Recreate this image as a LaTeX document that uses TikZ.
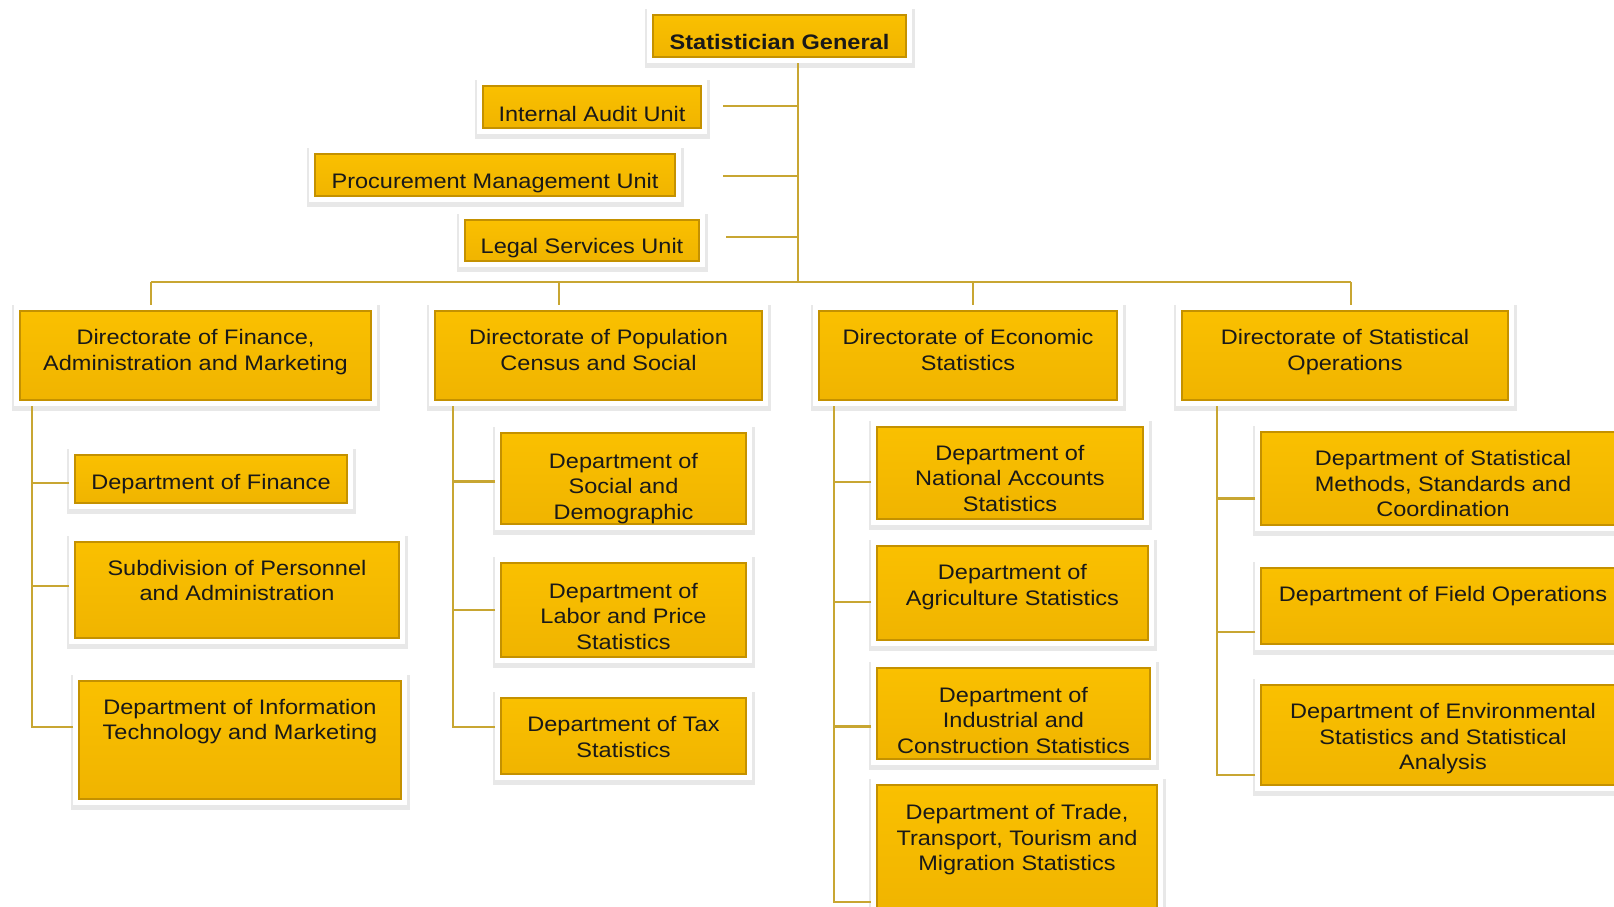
\documentclass[tikz,border=0pt]{standalone}
\usepackage{fontspec}
\setmainfont{Liberation Sans}[FakeStretch=1.12]
\definecolor{gtop}{RGB}{250,192,0}
\definecolor{gbot}{RGB}{240,180,0}
\definecolor{ecol}{RGB}{196,145,0}
\definecolor{lcol}{RGB}{200,166,50}
\tikzset{every picture/.style={x=1pt,y=-1pt}}
\tikzset{unit/.style={rectangle,top color=gtop,bottom color=gbot,draw=ecol,line width=1.2pt,
preaction={draw=black!9,line width=17pt,transform canvas={yshift=-2pt}},
preaction={draw=white,line width=12pt},
outer sep=6pt,inner sep=2pt,align=center,text=black!90,
font=\fontsize{21}{25.5}\selectfont}}
\tikzset{box/.style 2 args={minimum width=#1pt,minimum height=#2pt}}
\tikzset{txt/.style 2 args={text height=#1pt,text depth=#2pt}}
\tikzset{link/.style={lcol,line width=2.8pt}}

\begin{document}
\begin{tikzpicture}
\useasboundingbox (0,0) rectangle (1614,906);
\clip (0,0) rectangle (1614,906);
\fill [white] (0,0) rectangle (1614,906);

% top of the chart
\node [unit,box={253}{42},txt={32.2}{5.8},font=\fontsize{21}{25.5}\selectfont\bfseries] (sg) at (779.5,36) {Statistician General};
\node [unit,box={218}{42},txt={33.2}{4.8}] (iau) at (592,107) {Internal Audit Unit};
\node [unit,box={360}{42},txt={32.1}{5.9}] (pmu) at (495,175) {Procurement Management Unit};
\node [unit,box={234}{41},txt={31}{6}] (lsu) at (582,240.5) {Legal Services Unit};

% directorates
\node [unit,box={351}{89},txt={57.3}{27.7}] (d1) at (195.5,355.5) {Directorate of Finance,\\Administration and Marketing};
\node [unit,box={327}{89},txt={57.3}{27.7}] (d2) at (598.5,355.5) {Directorate of Population\\Census and Social};
\node [unit,box={298}{89},txt={57.3}{27.7}] (d3) at (968,355.5) {Directorate of Economic\\Statistics};
\node [unit,box={326}{89},txt={57.3}{27.7}] (d4) at (1345,355.5) {Directorate of Statistical\\Operations};

% departments
\node [unit,box={272}{48},txt={32.7}{11.3}] (dfin) at (211,479) {Department of Finance};
\node [unit,box={324}{96},txt={56.9}{35.1}] (dper) at (237,590) {Subdivision of Personnel\\and Administration};
\node [unit,box={322}{118},txt={56.8}{57.2}] (dit) at (240,740) {Department of Information\\Technology and Marketing};

\node [unit,box={245}{91},txt={84}{3}] (dsoc) at (623.5,478.5) {Department of\\Social and\\Demographic};
\node [unit,box={245}{94},txt={84.3}{5.7}] (dlab) at (623.5,610) {Department of\\Labor and Price\\Statistics};
\node [unit,box={245}{76},txt={57.3}{14.7}] (dtax) at (623.5,736) {Department of Tax\\Statistics};

\node [unit,box={266}{92},txt={82.3}{5.7}] (dnat) at (1010,473) {Department of\\National Accounts\\Statistics};
\node [unit,box={271}{94},txt={57}{33}] (dagr) at (1012.5,593) {Department of\\Agriculture Statistics};
\node [unit,box={273}{91},txt={83.2}{3.8}] (dind) at (1013.5,713.5) {Department of\\Industrial and\\Construction Statistics};
\node [unit,box={280}{130},txt={83.5}{42.5}] (dtrd) at (1017,850) {Department of Trade,\\Transport, Tourism and\\Migration Statistics};

\node [unit,box={364}{93},txt={82.5}{6.5}] (dmet) at (1443,478.5) {Department of Statistical\\Methods, Standards and\\Coordination};
\node [unit,box={364}{76},txt={31.9}{40.1}] (dfld) at (1443,606) {Department of Field Operations};
\node [unit,box={364}{100},txt={82.7}{13.3}] (denv) at (1443,735) {Department of Environmental\\Statistics and Statistical\\Analysis};

% connectors
\coordinate (bus) at (798,282);
\coordinate (u1) at (723,106);
\coordinate (u2) at (723,176);
\coordinate (u3) at (726,237);
\coordinate (b1) at (151,282);
\coordinate (b2) at (559,282);
\coordinate (b3) at (973,282);
\coordinate (b4) at (1351,282);
\coordinate (s1) at (32,0);
\coordinate (s2) at (453,0);
\coordinate (s3) at (834,0);
\coordinate (s4) at (1217,0);

\draw [link] (bus |- sg.south) -- (bus);
\draw [link] (u1) -- (u1 -| bus);
\draw [link] (u2) -- (u2 -| bus);
\draw [link] (u3) -- (u3 -| bus);
\draw [link] (b1) -- (b4);
\draw [link] (b1) -- (b1 |- d1.north);
\draw [link] (b2) -- (b2 |- d2.north);
\draw [link] (b3) -- (b3 |- d3.north);
\draw [link] (b4) -- (b4 |- d4.north);

\draw [link] ([yshift=-4pt]dfin.west) -| (s1 |- d1.south);
\draw [link] ([yshift=4pt]dper.west) -| (s1 |- d1.south);
\draw [link] ([yshift=13pt]dit.west) -| (s1 |- d1.south);

\draw [link] ([yshift=-3pt]dsoc.west) -| (s2 |- d2.south);
\draw [link] (dlab.west) -| (s2 |- d2.south);
\draw [link] ([yshift=9pt]dtax.west) -| (s2 |- d2.south);

\draw [link] ([yshift=-9pt]dnat.west) -| (s3 |- d3.south);
\draw [link] ([yshift=-9pt]dagr.west) -| (s3 |- d3.south);
\draw [link] ([yshift=-13pt]dind.west) -| (s3 |- d3.south);
\draw [link] ([yshift=-52pt]dtrd.west) -| (s3 |- d3.south);

\draw [link] ([yshift=-20pt]dmet.west) -| (s4 |- d4.south);
\draw [link] ([yshift=-26pt]dfld.west) -| (s4 |- d4.south);
\draw [link] ([yshift=-40pt]denv.west) -| (s4 |- d4.south);
\end{tikzpicture}
\end{document}
